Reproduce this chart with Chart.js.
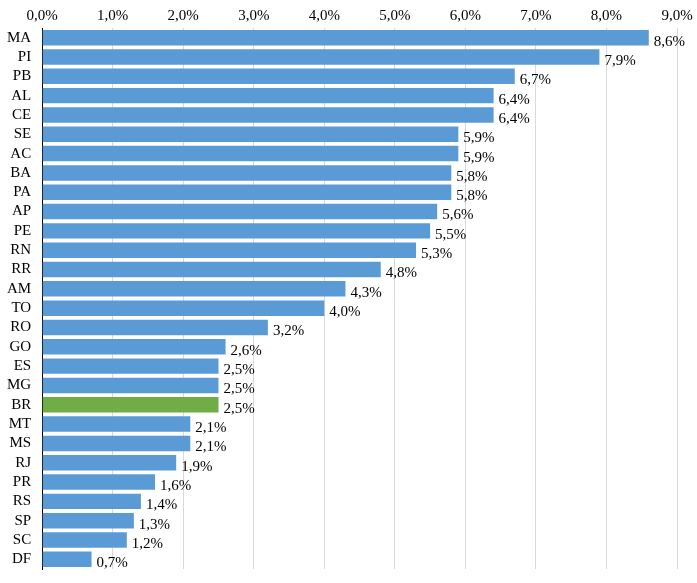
<!DOCTYPE html>
<html>
<head>
<meta charset="utf-8">
<script src="https://cdn.jsdelivr.net/npm/chart.js@4"></script>
<style>
  body { margin: 0; background: #fff; }
  #wrap { width: 697px; height: 583px; }
</style>
</head>
<body>
<div id="wrap"><canvas id="myChart"></canvas></div>
<script>
const states = ['MA','PI','PB','AL','CE','SE','AC','BA','PA','AP','PE','RN','RR','AM','TO','RO','GO','ES','MG','BR','MT','MS','RJ','PR','RS','SP','SC','DF'];
const values = [8.6,7.9,6.7,6.4,6.4,5.9,5.9,5.8,5.8,5.6,5.5,5.3,4.8,4.3,4.0,3.2,2.6,2.5,2.5,2.5,2.1,2.1,1.9,1.6,1.4,1.3,1.2,0.7];
const colors = states.map(s => s === 'BR' ? '#70ad47' : '#5b9bd5');

const fmt = v => v.toFixed(1).replace('.', ',') + '%';

const endLabels = {
  id: 'endLabels',
  afterDatasetsDraw(chart) {
    const c = chart.ctx;
    const meta = chart.getDatasetMeta(0);
    c.save();
    c.font = '15px "Liberation Serif"';
    c.fillStyle = '#000';
    c.textBaseline = 'middle';
    meta.data.forEach((bar, i) => {
      c.fillText(fmt(values[i]), bar.x + 5, bar.y + 4);
    });
    c.restore();
  }
};

const ctx = document.getElementById('myChart').getContext('2d');
new Chart(ctx, {
  type: 'bar',
  data: {
    labels: states,
    datasets: [{
      data: values,
      backgroundColor: colors,
      categoryPercentage: 1.0,
      barPercentage: 0.8
    }]
  },
  options: {
    indexAxis: 'y',
    responsive: true,
    maintainAspectRatio: false,
    animation: false,
    layout: { padding: { left: 4, right: 20, top: 4, bottom: 14 } },
    plugins: { legend: { display: false }, tooltip: { enabled: false } },
    scales: {
      x: {
        position: 'top',
        min: 0, max: 9,
        ticks: {
          stepSize: 1,
          color: '#000',
          font: { family: 'Liberation Serif', size: 15 },
          callback: v => fmt(v)
        },
        grid: { color: '#d9d9d9', drawTicks: false },
        border: { display: false }
      },
      y: {
        ticks: { color: '#000', font: { family: 'Liberation Serif', size: 15 }, autoSkip: false },
        grid: { display: false },
        border: { color: '#000' }
      }
    }
  },
  plugins: [endLabels]
});
</script>
</body>
</html>
